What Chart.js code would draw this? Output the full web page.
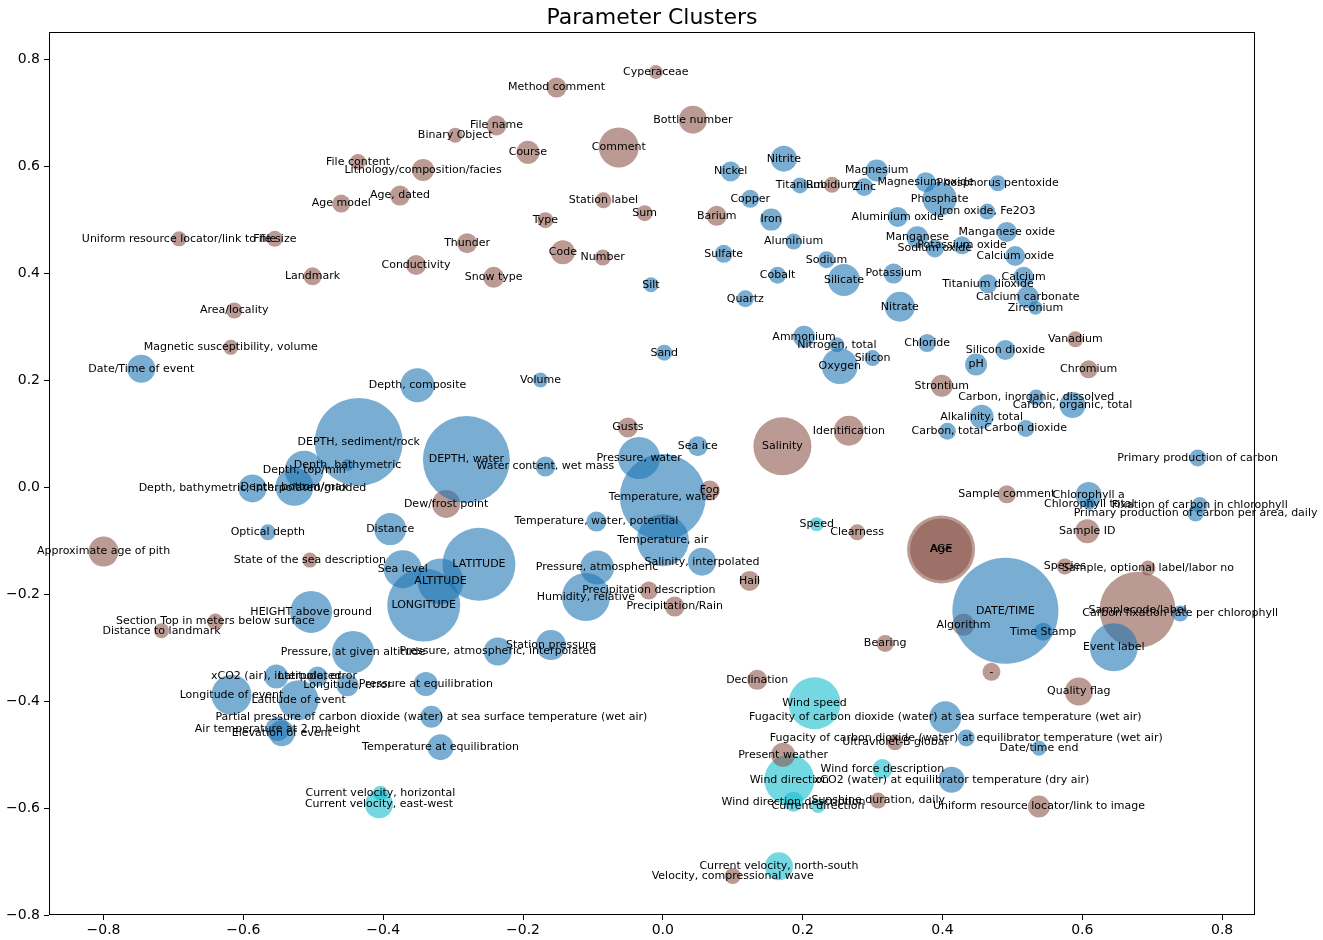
<!DOCTYPE html>
<html><head><meta charset="utf-8">
<script src="https://cdn.jsdelivr.net/npm/chart.js@4.4.1/dist/chart.umd.min.js"></script>
<style>html,body{margin:0;padding:0;background:#fff;} #wrap{width:1323px;height:940px;position:relative;}</style>
</head><body><div id="wrap"><canvas id="c"></canvas></div>
<script>
const titleText = "Parameter Clusters";
const xTicks = [-0.8,-0.6,-0.4,-0.2,0.0,0.2,0.4,0.6,0.8];
const xTickLabels = ["\u22120.8","\u22120.6","\u22120.4","\u22120.2","0.0","0.2","0.4","0.6","0.8"];
const yTicks = [-0.8,-0.6,-0.4,-0.2,0.0,0.2,0.4,0.6,0.8];
const yTickLabels = ["\u22120.8","\u22120.6","\u22120.4","\u22120.2","0.0","0.2","0.4","0.6","0.8"];

const blueNames = ["Silt","Nitrite","Nickel","Titanium","Magnesium","Zinc","Magnesium oxide","Phosphorus pentoxide","Phosphate","Copper","Iron","Aluminium oxide","Iron oxide, Fe2O3","Aluminium","Manganese","Potassium oxide","Sodium oxide","Manganese oxide","Calcium oxide","Sulfate","Sodium","Cobalt","Silicate","Potassium","Quartz","Nitrate","Calcium","Titanium dioxide","Calcium carbonate","Zirconium","Ammonium","Nitrogen, total","Oxygen","Silicon","Chloride","Sand","Volume","Date/Time of event","Depth, composite","DEPTH, sediment/rock","Depth, bathymetric","Depth, top/min","Depth, bottom/max","Depth, bathymetric, interpolated/gridded","Optical depth","HEIGHT above ground","DEPTH, water","Water content, wet mass","Pressure, water","Distance","Temperature, water, potential","Sea level","ALTITUDE","LATITUDE","LONGITUDE","Pressure, atmospheric","Humidity, relative","Temperature, water","Temperature, air","Salinity, interpolated","Sea ice","Carbon, total","Silicon dioxide","pH","Carbon, inorganic, dissolved","Carbon, organic, total","Alkalinity, total","Carbon dioxide","Primary production of carbon","Chlorophyll a","Chlorophyll total","Fixation of carbon in chlorophyll","Primary production of carbon per area, daily","Carbon fixation rate per chlorophyll","DATE/TIME","Time Stamp","Event label","Date/time end","xCO2 (water) at equilibrator temperature (dry air)","Fugacity of carbon dioxide (water) at sea surface temperature (wet air)","Fugacity of carbon dioxide (water) at equilibrator temperature (wet air)","Pressure, at given altitude","xCO2 (air), interpolated","Latitude, error","Longitude, error","Longitude of event","Latitude of event","Partial pressure of carbon dioxide (water) at sea surface temperature (wet air)","Air temperature at 2 m height","Elevation of event","Station pressure","Pressure, atmospheric, interpolated","Pressure at equilibration","Temperature at equilibration"];
const blueX = [-0.017,0.173,0.097,0.196,0.306,0.288,0.376,0.479,0.396,0.125,0.155,0.336,0.464,0.187,0.364,0.428,0.389,0.492,0.504,0.087,0.234,0.164,0.259,0.330,0.118,0.339,0.516,0.465,0.522,0.533,0.202,0.249,0.253,0.300,0.378,0.002,-0.175,-0.746,-0.351,-0.435,-0.451,-0.513,-0.527,-0.587,-0.565,-0.503,-0.281,-0.168,-0.034,-0.390,-0.095,-0.372,-0.318,-0.263,-0.342,-0.094,-0.110,0.000,0.000,0.056,0.050,0.407,0.490,0.448,0.534,0.586,0.456,0.519,0.765,0.609,0.610,0.768,0.762,0.740,0.490,0.544,0.645,0.538,0.413,0.404,0.434,-0.443,-0.553,-0.494,-0.451,-0.617,-0.521,-0.331,-0.551,-0.545,-0.160,-0.236,-0.339,-0.318];
const blueY = [0.379,0.615,0.591,0.565,0.593,0.562,0.571,0.569,0.540,0.540,0.501,0.506,0.516,0.460,0.468,0.453,0.447,0.478,0.433,0.437,0.426,0.397,0.388,0.400,0.353,0.338,0.394,0.381,0.356,0.336,0.282,0.267,0.227,0.242,0.270,0.252,0.201,0.222,0.191,0.085,0.042,0.032,0.001,-0.002,-0.084,-0.233,0.052,0.039,0.055,-0.078,-0.064,-0.153,-0.176,-0.144,-0.220,-0.150,-0.205,-0.018,-0.099,-0.139,0.077,0.105,0.257,0.230,0.168,0.154,0.132,0.110,0.055,-0.014,-0.031,-0.033,-0.049,-0.236,-0.231,-0.270,-0.299,-0.488,-0.547,-0.430,-0.469,-0.308,-0.354,-0.354,-0.370,-0.388,-0.398,-0.429,-0.452,-0.460,-0.295,-0.307,-0.368,-0.486];
const blueSize = [56,169,100,64,121,81,100,64,289,81,121,100,64,64,121,81,81,100,100,81,72,72,256,100,72,225,100,90,121,49,121,56,324,64,81,64,56,196,289,1936,36,380,361,196,64,441,1892,100,441,256,100,361,529,1332,1332,289,576,1849,676,196,100,72,100,121,64,169,144,72,72,169,36,64,64,64,2809,81,576,56,169,256,72,441,144,100,121,400,400,121,144,169,225,196,144,169];

const brownNames = ["File content","Age model","Uniform resource locator/link to file","File size","Landmark","Area/locality","Magnetic susceptibility, volume","Approximate age of pith","State of the sea description","Section Top in meters below surface","Distance to landmark","Cyperaceae","Method comment","File name","Binary Object","Course","Comment","Lithology/composition/facies","Age, dated","Station label","Sum","Type","Thunder","Code","Number","Conductivity","Snow type","Bottle number","Barium","Rubidium","Gusts","Dew/frost point","Fog","Precipitation description","Precipitation/Rain","Hail","Salinity","Identification","Strontium","Vanadium","Chromium","Clearness","AGE","Age","Sample comment","Sample ID","Species","Sample, optional label/labor no","Samplecode/label","Algorithm","-","Quality flag","Uniform resource locator/link to image","Bearing","Declination","Ultraviolet-B global","Present weather","Sunshine duration, daily","Velocity, compressional wave"];
const brownX = [-0.436,-0.460,-0.692,-0.555,-0.501,-0.613,-0.618,-0.800,-0.505,-0.640,-0.717,-0.010,-0.152,-0.238,-0.297,-0.193,-0.063,-0.343,-0.376,-0.085,-0.026,-0.168,-0.280,-0.143,-0.086,-0.353,-0.242,0.043,0.077,0.242,-0.050,-0.310,0.067,-0.020,0.017,0.124,0.171,0.266,0.399,0.590,0.609,0.278,0.398,0.398,0.492,0.607,0.575,0.694,0.679,0.430,0.470,0.595,0.538,0.318,0.135,0.332,0.172,0.308,0.100];
const brownY = [0.609,0.531,0.465,0.465,0.395,0.331,0.262,-0.120,-0.136,-0.251,-0.268,0.777,0.748,0.677,0.659,0.627,0.636,0.594,0.546,0.537,0.513,0.500,0.457,0.440,0.430,0.416,0.393,0.688,0.508,0.566,0.112,-0.031,-0.006,-0.193,-0.223,-0.175,0.077,0.106,0.190,0.277,0.221,-0.084,-0.116,-0.116,-0.013,-0.082,-0.148,-0.151,-0.229,-0.257,-0.345,-0.382,-0.597,-0.292,-0.360,-0.477,-0.500,-0.586,-0.727];
const brownSize = [64,81,56,64,81,64,56,225,56,64,56,49,100,100,56,132,400,121,100,64,64,64,100,144,64,100,110,196,100,64,100,196,100,81,100,100,841,225,121,64,81,64,1156,961,81,144,64,56,1444,121,81,196,121,72,100,64,144,64,64];

const cyanNames = ["Speed","Wind speed","Wind direction","Wind force description","Wind direction description","Current direction","Current velocity, north-south","Current velocity, horizontal","Current velocity, east-west"];
const cyanX = [0.220,0.217,0.181,0.314,0.187,0.222,0.166,-0.404,-0.406];
const cyanY = [-0.069,-0.404,-0.547,-0.527,-0.588,-0.596,-0.709,-0.572,-0.593];
const cyanSize = [49,676,625,100,100,49,196,56,196];

const FONT = '"DejaVu Sans", sans-serif';
function pts(xs, ys, ss){ return xs.map((x,i)=>({x:x, y:ys[i], r:Math.sqrt(ss[i])})); }

const labelPlugin = {
  id:'labels',
  afterDatasetsDraw(chart){
    const ctx = chart.ctx;
    ctx.save();
    ctx.font = '11px ' + FONT;
    ctx.fillStyle = '#000';
    ctx.textAlign = 'center';
    ctx.textBaseline = 'middle';
    chart.data.datasets.forEach((ds, di)=>{
      const meta = chart.getDatasetMeta(di);
      meta.data.forEach((el, i)=>{ ctx.fillText(ds.names[i], el.x, el.y); });
    });
    ctx.restore();
  }
};
const framePlugin = {
  id:'frame',
  afterDraw(chart){
    const a = chart.chartArea, ctx = chart.ctx;
    ctx.save();
    ctx.strokeStyle = '#000';
    ctx.lineWidth = 1;
    ctx.strokeRect(Math.round(a.left)+0.5, Math.round(a.top)+0.5, Math.round(a.right-a.left)-1, Math.round(a.bottom-a.top)-1);
    ctx.font = '22px ' + FONT;
    ctx.fillStyle = '#000';
    ctx.textAlign = 'center';
    ctx.textBaseline = 'alphabetic';
    ctx.fillText(titleText, (a.left+a.right)/2, 24);
    ctx.restore();
  }
};

new Chart(document.getElementById('c'), {
  type: 'bubble',
  data: { datasets: [
    { names: blueNames, data: pts(blueX, blueY, blueSize), backgroundColor: 'rgba(31,119,180,0.6)' },
    { names: brownNames, data: pts(brownX, brownY, brownSize), backgroundColor: 'rgba(140,86,75,0.6)' },
    { names: cyanNames, data: pts(cyanX, cyanY, cyanSize), backgroundColor: 'rgba(23,190,207,0.6)' }
  ]},
  options: {
    responsive: true, maintainAspectRatio: false, animation: false, events: [],
    layout: { autoPadding: false, padding: { left: 0, right: 68, top: 32, bottom: 0 } },
    elements: { point: { borderWidth: 0, hoverBorderWidth: 0 } },
    plugins: { legend: { display: false }, tooltip: { enabled: false }, title: { display: false } },
    scales: {
      x: {
        type: 'linear', min: -0.878, max: 0.847,
        afterBuildTicks: s => { s.ticks = xTicks.map(v => ({value: v})); },
        afterFit: s => { s.height = 25; },
        ticks: { callback: (v, i) => xTickLabels[i], font: { family: FONT, size: 14 }, color: '#000', padding: 2, maxRotation: 0, autoSkip: false },
        grid: { drawOnChartArea: false, drawTicks: true, tickLength: 5, color: '#000', lineWidth: 1 },
        border: { display: false }
      },
      y: {
        type: 'linear', min: -0.8, max: 0.852,
        afterBuildTicks: s => { s.ticks = yTicks.map(v => ({value: v})); },
        afterFit: s => { s.width = 49; },
        ticks: { callback: (v, i) => yTickLabels[i], font: { family: FONT, size: 14 }, color: '#000', padding: 4, autoSkip: false },
        grid: { drawOnChartArea: false, drawTicks: true, tickLength: 5, color: '#000', lineWidth: 1 },
        border: { display: false }
      }
    }
  },
  plugins: [labelPlugin, framePlugin]
});
</script>
</body></html>
